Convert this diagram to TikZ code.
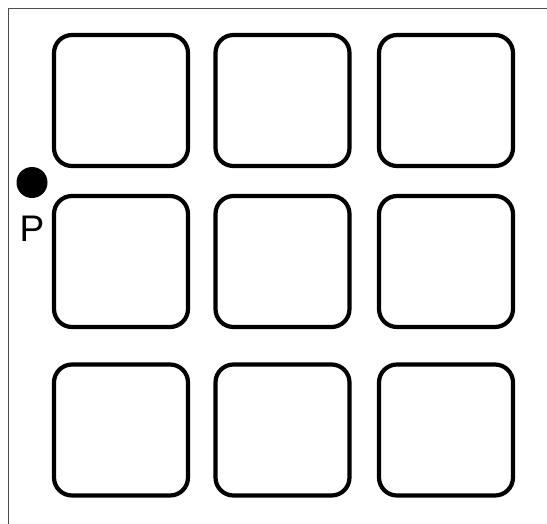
\documentclass[tikz,border=0pt]{standalone}
\usepackage{fontspec}
\setmainfont{Liberation Sans}
\begin{document}
\begin{tikzpicture}[x=1pt,y=-1pt,
  cell/.style={draw=black,line width=4.2pt,rounded corners=18pt,minimum width=134pt,minimum height=131pt,inner sep=0pt},
  frameline/.style={draw=black!70,line width=1.9pt}]
\useasboundingbox (0,0) rectangle (547,524);
\coordinate (fbl) at (8.5,524);
\coordinate (ftl) at (8.5,8.5);
\coordinate (ftr) at (547,8.5);
\draw[frameline] (fbl) -- (ftl) -- (ftr);
\node[cell] (c11) at (121,100.5) {};
\node[cell] (c12) at (282.5,100.5) {};
\node[cell] (c13) at (446,100.5) {};
\node[cell] (c21) at (121,261.5) {};
\node[cell] (c22) at (282.5,261.5) {};
\node[cell] (c23) at (446,261.5) {};
\node[cell] (c31) at (121,430) {};
\node[cell] (c32) at (282.5,430) {};
\node[cell] (c33) at (446,430) {};
\node[circle,fill=black,minimum size=31pt,inner sep=0pt] (dot) at (32,182.5) {};
\node[font=\fontsize{37}{40}\selectfont,inner sep=0pt] (p) at (32,228.5) {P};
\end{tikzpicture}
\end{document}
